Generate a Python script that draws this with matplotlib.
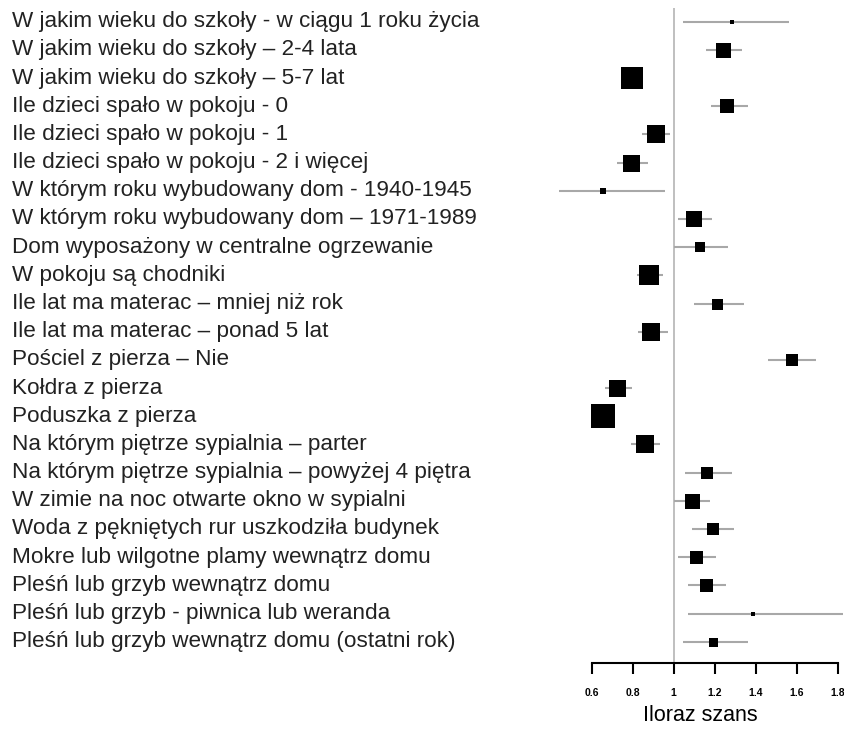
import matplotlib.pyplot as plt
from matplotlib import transforms

labels = [
    "W jakim wieku do szkoły - w ciągu 1 roku życia",
    "W jakim wieku do szkoły – 2-4 lata",
    "W jakim wieku do szkoły – 5-7 lat",
    "Ile dzieci spało w pokoju - 0",
    "Ile dzieci spało w pokoju - 1",
    "Ile dzieci spało w pokoju - 2 i więcej",
    "W którym roku wybudowany dom - 1940-1945",
    "W którym roku wybudowany dom – 1971-1989",
    "Dom wyposażony w centralne ogrzewanie",
    "W pokoju są chodniki",
    "Ile lat ma materac – mniej niż rok",
    "Ile lat ma materac – ponad 5 lat",
    "Pościel z pierza – Nie",
    "Kołdra z pierza",
    "Poduszka z pierza",
    "Na którym piętrze sypialnia – parter",
    "Na którym piętrze sypialnia – powyżej 4 piętra",
    "W zimie na noc otwarte okno w sypialni",
    "Woda z pękniętych rur uszkodziła budynek",
    "Mokre lub wilgotne plamy wewnątrz domu",
    "Pleśń lub grzyb wewnątrz domu",
    "Pleśń lub grzyb - piwnica lub weranda",
    "Pleśń lub grzyb wewnątrz domu (ostatni rok)",
]

odds = [1.283, 1.242, 0.795, 1.262, 0.912, 0.792, 0.654, 1.098, 1.130, 0.880,
        1.210, 0.891, 1.576, 0.725, 0.654, 0.862, 1.164, 1.091, 1.192, 1.110,
        1.159, 1.388, 1.190]
ci_low = [1.047, 1.158, 0.760, 1.180, 0.847, 0.722, 0.440, 1.023, 1.000, 0.819,
          1.099, 0.826, 1.460, 0.663, 0.620, 0.790, 1.057, 1.003, 1.091, 1.023,
          1.070, 1.070, 1.044]
ci_high = [1.564, 1.333, 0.830, 1.364, 0.983, 0.875, 0.956, 1.185, 1.263, 0.949,
           1.341, 0.971, 1.694, 0.797, 0.690, 0.935, 1.286, 1.177, 1.294, 1.205,
           1.255, 1.824, 1.362]
# relative study weight (box size)
weight = [5, 15, 22, 14, 18, 17, 6, 16, 10, 20, 11, 18, 12, 17, 24, 18, 12, 15,
          12, 13, 13, 3.5, 9]

xticks = [0.6, 0.8, 1.0, 1.2, 1.4, 1.6, 1.8]
xticklabels = ["0.6", "0.8", "1", "1.2", "1.4", "1.6", "1.8"]

plt.rcParams['font.family'] = ['Liberation Sans', 'DejaVu Sans']

fig = plt.figure(figsize=(8.45, 7.31), dpi=100)
ax = fig.add_axes([556 / 845, 1 - 663 / 731, 289 / 845, 655 / 731])

n = len(labels)
rows = list(range(n))

ax.axvline(1.0, color='#b4b4b4', lw=1.2, zorder=1)
ax.hlines(rows, ci_low, ci_high, color='#a8a8a8', lw=1.5, zorder=2)
for i in rows:
    ax.plot(odds[i], i, marker='s', color='black', markersize=weight[i] * 0.72,
            markeredgewidth=0, zorder=3)

ax.set_xlim(0.426, 1.836)
ax.set_ylim(n - 1 + 0.755, -0.486)

for s in ['top', 'right', 'left']:
    ax.spines[s].set_visible(False)
ax.spines['bottom'].set_bounds(0.6, 1.8)
ax.spines['bottom'].set_linewidth(1.5)
ax.set_yticks([])
ax.set_xticks(xticks)
ax.set_xticklabels(xticklabels, fontsize=7.5, fontweight='bold')
ax.tick_params(axis='x', length=8, width=1.5, pad=10)
ax.set_xlabel("Iloraz szans", fontsize=15.5, labelpad=5)

trans = transforms.blended_transform_factory(fig.transFigure, ax.transData)
for i, lab in enumerate(labels):
    ax.text(12 / 845, i, lab, transform=trans, ha='left', va='center',
            fontsize=16.2, color='#222222')

fig.savefig('out.png', dpi=100)
